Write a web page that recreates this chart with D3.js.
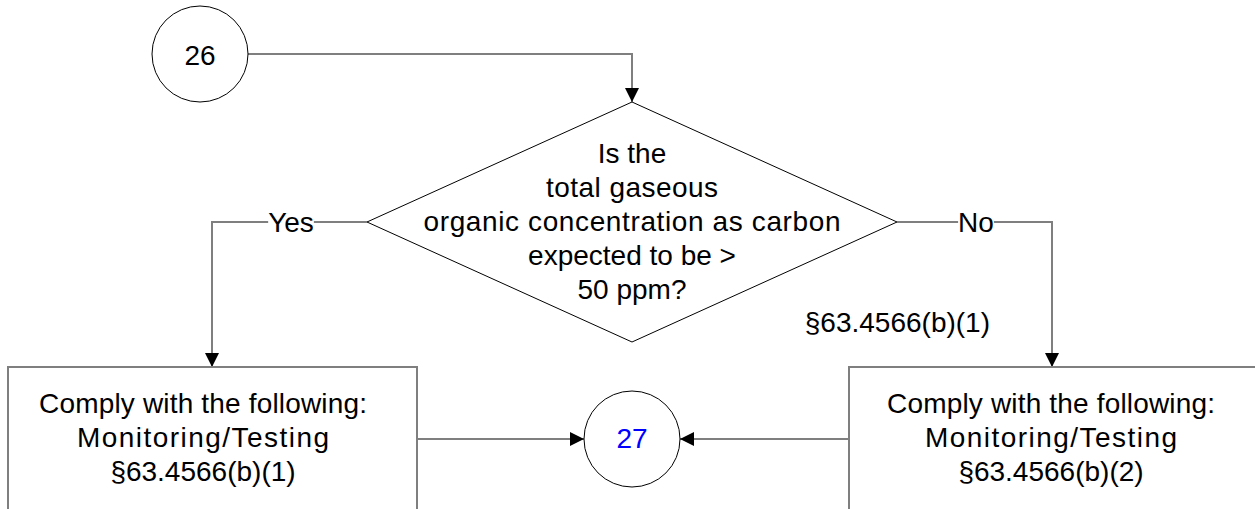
<html>
<head>
<meta charset="utf-8">
<title>Flowchart 26-27</title>
<style>
  body { margin: 0; background: #fff; }
  text { font-family: "Liberation Sans", Arial, sans-serif; }
</style>
</head>
<body>
<div id="viz"></div>
<script src="https://cdn.jsdelivr.net/npm/d3@7"></script>
<script>
// chart content
var startLabel = "26";
var endLabel = "27";
var questionLines = ["Is the", "total gaseous", "organic concentration as carbon", "expected to be >", "50 ppm?"];
var yesLabel = "Yes";
var noLabel = "No";
var sideNote = "\u00a763.4566(b)(1)";
var leftBoxLines = ["Comply with the following:", "Monitoring/Testing", "\u00a763.4566(b)(1)"];
var rightBoxLines = ["Comply with the following:", "Monitoring/Testing", "\u00a763.4566(b)(2)"];

var width = 1255, height = 509;
var fs = 28, lh = 34;

// a few lines in the original are set a bit wider than the font
var stretch = {
    "total gaseous": 172,
    "organic concentration as carbon": 417,
    "Comply with the following:": 328,
    "Monitoring/Testing": 252
};

var svg = d3.select("#viz").append("svg")
    .attr("width", width)
    .attr("height", height);

svg.append("defs").append("marker")
    .attr("id", "arr")
    .attr("viewBox", "0 0 10 10")
    .attr("refX", 10).attr("refY", 5)
    .attr("markerWidth", 15).attr("markerHeight", 14)
    .attr("markerUnits", "userSpaceOnUse")
    .attr("orient", "auto")
  .append("path")
    .attr("d", "M0,0 L10,5 L0,10 z")
    .attr("fill", "#000");

// layout
var c26 = {x: 200, y: 54, r: 48};
var c27 = {x: 632, y: 439, r: 48};
var dia = {x: 632, y: 222, hw: 265, hh: 120};
var leftBox = {x: 8, y: 367, w: 409, h: 160, tx: 203};
var rightBox = {x: 849, y: 367, w: 409, h: 160, tx: 1051};
var yesX = 212, noX = 1052;

var line = d3.line();

function fit(sel) {
    sel.each(function (d) {
        if (stretch[d]) {
            d3.select(this)
                .attr("textLength", stretch[d])
                .attr("lengthAdjust", "spacing");
        }
    });
}

// connectors
var connectors = [
    [[c26.x + c26.r, c26.y], [dia.x, c26.y], [dia.x, dia.y - dia.hh]],
    [[dia.x - dia.hw, dia.y], [yesX, dia.y], [yesX, leftBox.y]],
    [[dia.x + dia.hw, dia.y], [noX, dia.y], [noX, rightBox.y]],
    [[leftBox.x + leftBox.w, c27.y], [c27.x - c27.r, c27.y]],
    [[rightBox.x, c27.y], [c27.x + c27.r, c27.y]]
];

svg.selectAll("path.conn")
    .data(connectors)
    .enter().append("path")
    .attr("class", "conn")
    .attr("d", line)
    .attr("fill", "none")
    .attr("stroke", "#7f7f7f")
    .attr("stroke-width", 2)
    .attr("marker-end", "url(#arr)");

// boxes
svg.selectAll("rect.box")
    .data([leftBox, rightBox])
    .enter().append("rect")
    .attr("class", "box")
    .attr("x", function (d) { return d.x; })
    .attr("y", function (d) { return d.y; })
    .attr("width", function (d) { return d.w; })
    .attr("height", function (d) { return d.h; })
    .attr("fill", "#fff")
    .attr("stroke", "#7f7f7f")
    .attr("stroke-width", 2);

// diamond
svg.append("path")
    .attr("d", line([[dia.x, dia.y - dia.hh], [dia.x + dia.hw, dia.y], [dia.x, dia.y + dia.hh], [dia.x - dia.hw, dia.y]]) + "Z")
    .attr("fill", "#fff")
    .attr("stroke", "#000")
    .attr("stroke-width", 1);

// circles
svg.selectAll("circle.node")
    .data([c26, c27])
    .enter().append("circle")
    .attr("class", "node")
    .attr("cx", function (d) { return d.x; })
    .attr("cy", function (d) { return d.y; })
    .attr("r", function (d) { return d.r; })
    .attr("fill", "#fff")
    .attr("stroke", "#000")
    .attr("stroke-width", 1);

svg.append("text")
    .attr("x", c26.x).attr("y", 65)
    .attr("text-anchor", "middle")
    .attr("font-size", fs)
    .text(startLabel);

svg.append("text")
    .attr("x", c27.x).attr("y", 448)
    .attr("text-anchor", "middle")
    .attr("font-size", fs)
    .attr("fill", "#0000ff")
    .text(endLabel);

// question text
svg.selectAll("text.q")
    .data(questionLines)
    .enter().append("text")
    .attr("class", "q")
    .attr("x", dia.x)
    .attr("y", function (d, i) { return 163 + i * lh; })
    .attr("text-anchor", "middle")
    .attr("font-size", fs)
    .text(function (d) { return d; })
    .call(fit);

// yes / no labels with white background over the line
function edgeLabel(txt, x, y) {
    var g = svg.append("g");
    var t = g.append("text")
        .attr("x", x).attr("y", y)
        .attr("text-anchor", "middle")
        .attr("font-size", fs)
        .text(txt);
    var bb = t.node().getBBox();
    g.insert("rect", "text")
        .attr("x", bb.x).attr("y", bb.y)
        .attr("width", bb.width).attr("height", bb.height)
        .attr("fill", "#fff");
}
edgeLabel(yesLabel, 291, 232);
edgeLabel(noLabel, 976, 232);

svg.append("text")
    .attr("x", 990).attr("y", 332)
    .attr("text-anchor", "end")
    .attr("font-size", fs)
    .text(sideNote);

// box text
[[leftBox, leftBoxLines], [rightBox, rightBoxLines]].forEach(function (p) {
    var b = p[0];
    svg.selectAll(null)
        .data(p[1])
        .enter().append("text")
        .attr("x", b.tx)
        .attr("y", function (d, i) { return 413 + i * lh; })
        .attr("text-anchor", "middle")
        .attr("font-size", fs)
        .text(function (d) { return d; })
        .call(fit);
});
</script>
</body>
</html>
